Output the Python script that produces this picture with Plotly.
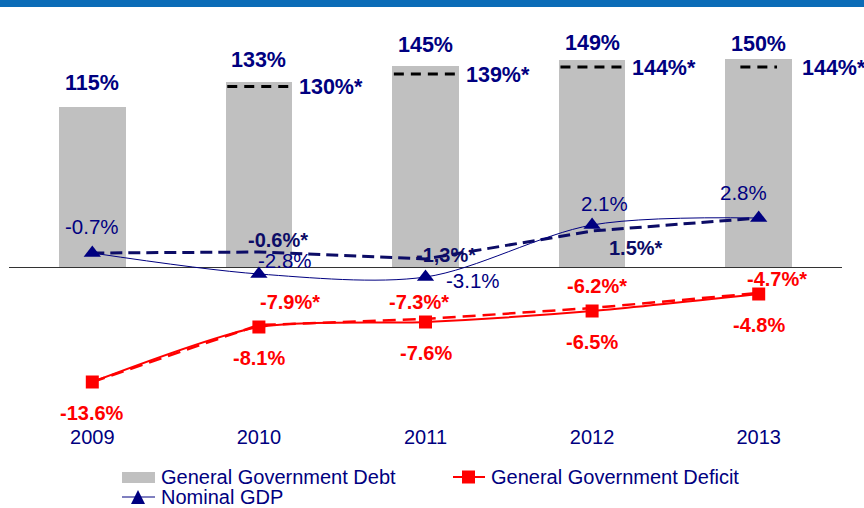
import plotly.graph_objects as go

# ---- data ----
years = [2009, 2010, 2011, 2012, 2013]
year_labels = ["2009", "2010", "2011", "2012", "2013"]

debt = [115, 133, 145, 149, 150]                      # % of GDP
debt_fc_years = [2010, 2011, 2012, 2013]
debt_fc = [130, 139, 144, 144]                         # earlier forecast (*)

deficit = [-13.6, -8.1, -7.6, -6.5, -4.8]             # % of GDP
deficit_fc = [-13.6, -7.9, -7.3, -6.2, -4.7]          # forecast path (*)
deficit_fc_labels = ["", "-7.9%*", "-7.3%*", "-6.2%*", "-4.7%*"]

gdp = [-0.7, -2.8, -3.1, 2.1, 2.8]                    # nominal GDP growth
gdp_fc = [-0.7, -0.6, -1.3, 1.5, 2.8]                 # forecast path (*)
gdp_fc_labels = ["", "-0.6%*", "-1,3%*", "1.5%*", ""]

# ---- styling ----
NAVY = "#000080"
DARK_NAVY = "#0c0c66"
RED = "#ff0000"
GREY = "#c0c0c0"
FONT = "Liberation Sans, Arial, sans-serif"

W, H = 864, 508
L, R, T, B = 9, 22, 20, 88
PW, PH = W - L - R, H - T - B


def px_x(x):
    return (x - L) / PW


def px_y(y):
    return (H - B - y) / PH


BAR_W = 0.4
# bar axis: zero line at 247 px below plot top, 1.389 px per %
y1_range = [-(PH - 247) / 1.389, 247 / 1.389]
# line axis: zero at 226 px below plot top, 10 px per point
y2_range = [-(PH - 226) / 10.0, 226 / 10.0]

fig = go.Figure()

fig.add_trace(go.Bar(
    x=years, y=debt, width=BAR_W, marker=dict(color=GREY, line=dict(width=0)),
    yaxis="y", showlegend=False, hoverinfo="skip",
))

# forecast debt markers drawn as short dashed strokes across each bar
dash_half = [0.19, 0.19, 0.19, 0.11]
dx, dy = [], []
for yr, v, hw in zip(debt_fc_years, debt_fc, dash_half):
    dx += [yr - hw, yr + hw, None]
    dy += [v, v, None]
fig.add_trace(go.Scatter(
    x=dx, y=dy, mode="lines", yaxis="y",
    line=dict(color="black", width=3, dash="10px,7px"),
    showlegend=False, hoverinfo="skip",
))

# forecast paths (dashed)
fig.add_trace(go.Scatter(
    x=years, y=gdp_fc, mode="lines", yaxis="y2",
    line=dict(color=DARK_NAVY, width=3, dash="12px,6px"),
    showlegend=False, hoverinfo="skip",
))
fig.add_trace(go.Scatter(
    x=years, y=deficit_fc, mode="lines", yaxis="y2",
    line=dict(color=RED, width=2.5, dash="13px,7px"),
    showlegend=False, hoverinfo="skip",
))

# actual paths
fig.add_trace(go.Scatter(
    x=years, y=gdp, mode="lines+markers", yaxis="y2",
    line=dict(color=NAVY, width=1, shape="spline", smoothing=0.9),
    marker=dict(symbol="triangle-up", size=15, color=NAVY),
    showlegend=False, hoverinfo="skip",
))
fig.add_trace(go.Scatter(
    x=years, y=deficit, mode="lines+markers", yaxis="y2",
    line=dict(color=RED, width=2, shape="spline", smoothing=0.7),
    marker=dict(symbol="square", size=13, color=RED),
    showlegend=False, hoverinfo="skip",
))

ann = []

# debt values above bars
bar_lift = [24, 22, 21, 17, 15]
for yr, v, s in zip(years, debt, bar_lift):
    ann.append(dict(x=yr, y=v, xref="x", yref="y", text=f"<b>{v}%</b>",
                    showarrow=False, yshift=s, yanchor="middle",
                    font=dict(family=FONT, size=21.5, color=NAVY)))

# forecast debt values beside bars
fc_gap = [5, 5, 5, 8]
for yr, v, g in zip(debt_fc_years, debt_fc, fc_gap):
    ann.append(dict(x=yr + BAR_W / 2, y=v, xref="x", yref="y",
                    text=f"<b>{v}%*</b>", showarrow=False, xanchor="left",
                    yanchor="middle", xshift=g, yshift=-1,
                    font=dict(family=FONT, size=21.5, color=NAVY)))

# GDP values
gdp_off = [(0, 27), (26, 14), (47, -3), (12, 22), (-15, 26)]
for yr, v, (ox, oy) in zip(years, gdp, gdp_off):
    ann.append(dict(x=yr, y=v, xref="x", yref="y2", text=f"{v:.1f}%",
                    showarrow=False, xshift=ox, yshift=oy, yanchor="middle",
                    font=dict(family=FONT, size=20.5, color=NAVY)))

gdp_fc_off = [(0, 0), (19, 12), (20, 4), (44, -17), (0, 0)]
for yr, v, t, (ox, oy) in zip(years, gdp_fc, gdp_fc_labels, gdp_fc_off):
    if t:
        ann.append(dict(x=yr, y=v, xref="x", yref="y2", text=f"<b>{t}</b>",
                        showarrow=False, xshift=ox, yshift=oy, yanchor="middle",
                        font=dict(family=FONT, size=20, color=DARK_NAVY)))

# deficit values
for yr, v in zip(years, deficit):
    ann.append(dict(x=yr, y=v, xref="x", yref="y2", text=f"<b>{v:.1f}%</b>",
                    showarrow=False, yshift=-31, yanchor="middle",
                    font=dict(family=FONT, size=20, color=RED)))

def_fc_off = [(0, 0), (31, 23), (-7, 17), (5, 22), (18, 14)]
for yr, v, t, (ox, oy) in zip(years, deficit_fc, deficit_fc_labels, def_fc_off):
    if t:
        ann.append(dict(x=yr, y=v, xref="x", yref="y2", text=f"<b>{t}</b>",
                        showarrow=False, xshift=ox, yshift=oy, yanchor="middle",
                        font=dict(family=FONT, size=20, color=RED)))

# legend
legend_font = dict(family=FONT, size=20, color=NAVY)
for text, lx, ly in [("General Government Debt", 159, 477),
                     ("General Government Deficit", 489, 477),
                     ("Nominal GDP", 159, 497)]:
    ann.append(dict(x=px_x(lx), y=px_y(ly), xref="paper", yref="paper", text=text,
                    showarrow=False, xanchor="left", yanchor="middle",
                    font=legend_font))

shapes = [
    # header band
    dict(type="rect", xref="paper", yref="paper", x0=px_x(0), x1=px_x(W),
         y0=px_y(7), y1=px_y(0), fillcolor="#0b6cb7", line=dict(width=0), layer="below"),
    # legend swatches
    dict(type="rect", xref="paper", yref="paper", x0=px_x(122), x1=px_x(155),
         y0=px_y(483), y1=px_y(472), fillcolor=GREY, line=dict(width=0)),
    dict(type="line", xref="paper", yref="paper", x0=px_x(453), x1=px_x(485),
         y0=px_y(477), y1=px_y(477), line=dict(color=RED, width=2)),
    dict(type="rect", xref="paper", yref="paper", x0=px_x(462), x1=px_x(475),
         y0=px_y(483.5), y1=px_y(470.5), fillcolor=RED, line=dict(width=0)),
    dict(type="line", xref="paper", yref="paper", x0=px_x(122), x1=px_x(155),
         y0=px_y(497), y1=px_y(497), line=dict(color=NAVY, width=1)),
    dict(type="path", xref="paper", yref="paper",
         path=f"M{px_x(131)},{px_y(504)} L{px_x(145)},{px_y(504)} L{px_x(138)},{px_y(490)} Z",
         fillcolor=NAVY, line=dict(width=0)),
]

fig.update_layout(
    width=W, height=H,
    margin=dict(l=L, r=R, t=T, b=B, pad=0),
    paper_bgcolor="white", plot_bgcolor="white",
    showlegend=False,
    bargap=0,
    xaxis=dict(range=[2008.5, 2013.5], tickvals=years, ticktext=year_labels,
               showgrid=False, zeroline=False, showline=False, ticks="",
               ticklabelstandoff=3,
               tickfont=dict(family=FONT, size=20, color=NAVY), fixedrange=True),
    yaxis=dict(range=y1_range, showgrid=False, showticklabels=False,
               zeroline=True, zerolinecolor="#333333", zerolinewidth=1,
               fixedrange=True),
    yaxis2=dict(range=y2_range, overlaying="y", side="right", visible=False,
                fixedrange=True),
    annotations=ann,
    shapes=shapes,
)

fig.write_html("out.html")
